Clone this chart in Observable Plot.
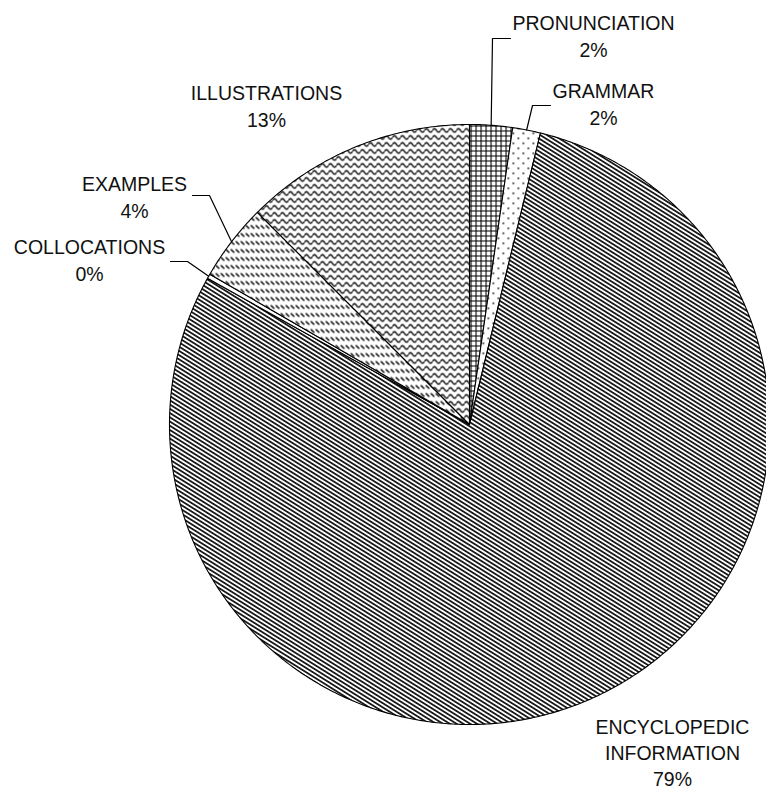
<!DOCTYPE html>
<html>
<head>
<meta charset="utf-8">
<script src="https://cdn.jsdelivr.net/npm/d3@7"></script>
<script src="https://cdn.jsdelivr.net/npm/@observablehq/plot@0.6"></script>
<style>
  html, body { margin: 0; padding: 0; background: #fff; }
  svg.defs { position: absolute; left: 0; top: 0; width: 0; height: 0; }
</style>
</head>
<body>
<svg class="defs" width="0" height="0">
  <defs>
    <pattern id="p-cross" patternUnits="userSpaceOnUse" width="5" height="5">
      <rect width="5" height="5" fill="#fff"/>
      <path d="M0,0.5 H5 M0.5,0 V5" stroke="#000" stroke-width="1.2" fill="none"/>
    </pattern>
    <pattern id="p-dots" patternUnits="userSpaceOnUse" width="10" height="10">
      <rect width="10" height="10" fill="#fff"/>
      <rect x="2" y="2" width="1.6" height="1.6" fill="#111"/>
      <rect x="7" y="7" width="1.6" height="1.6" fill="#111"/>
    </pattern>
    <pattern id="p-diag" patternUnits="userSpaceOnUse" width="8" height="3.6" patternTransform="rotate(32)">
      <rect width="8" height="3.6" fill="#fff"/>
      <rect y="0" width="8" height="1.8" fill="#1a1a1a"/>
    </pattern>
    <pattern id="p-dash" patternUnits="userSpaceOnUse" width="5" height="8">
      <rect width="5" height="8" fill="#fff"/>
      <path d="M0.3,0.8 L3.8,4.3" stroke="#000" stroke-width="1.4" fill="none"/>
    </pattern>
    <pattern id="p-wave" patternUnits="userSpaceOnUse" width="8" height="7">
      <rect width="8" height="7" fill="#fff"/>
      <path d="M0,4 Q2,0.5 4,4 T8,4" stroke="#000" stroke-width="1.5" fill="none"/>
    </pattern>
  </defs>
</svg>
<div id="chart"></div>
<script>
// ---- data ----
const categories = ["PRONUNCIATION", "GRAMMAR", "ENCYCLOPEDIC INFORMATION", "COLLOCATIONS", "EXAMPLES", "ILLUSTRATIONS"];
const values = [2.3, 1.5, 79.3, 0.25, 4.15, 12.5];
const percentLabels = ["2%", "2%", "79%", "0%", "4%", "13%"];
const labelLines = ["PRONUNCIATION", "GRAMMAR", "ENCYCLOPEDIC\nINFORMATION", "COLLOCATIONS", "EXAMPLES", "ILLUSTRATIONS"];

// ---- styles / layout (not data) ----
const sliceFills = ["url(#p-cross)", "url(#p-dots)", "url(#p-diag)", "#fff", "url(#p-dash)", "url(#p-wave)"];
const W = 766, H = 789, cx = 469, cy = 424, R = 300;
const labelPos = [[593, 10], [603, 78], [672, 715], [89, 234], [134, 171], [266, 80]];
const leaderStart = [
  [[510, 38], [492, 38]],
  [[550, 105], [532, 105]],
  null,
  [[170, 261], [187, 261]],
  [[192, 195], [209, 195]],
  null
];

const total = d3.sum(values);
let acc = 0;
const slices = categories.map((c, i) => {
  const a0 = acc / total * 2 * Math.PI;
  acc += values[i];
  const a1 = acc / total * 2 * Math.PI;
  return {c, i, a0, a1};
});

function slicePoints(s) {
  const pts = [{x: cx, y: cy}];
  const n = Math.max(2, Math.ceil((s.a1 - s.a0) / (Math.PI / 360)));
  for (let k = 0; k <= n; k++) {
    const a = s.a0 + (s.a1 - s.a0) * k / n;
    pts.push({x: cx + R * Math.sin(a), y: cy - R * Math.cos(a)});
  }
  pts.push({x: cx, y: cy});
  return pts;
}

const sliceMarks = slices.map(s => Plot.line(slicePoints(s), {
  x: "x", y: "y", fill: sliceFills[s.i], stroke: "#000", strokeWidth: 1.1, strokeLinejoin: "round"
}));

const leaders = [];
slices.forEach(s => {
  const st = leaderStart[s.i];
  if (!st) return;
  const am = (s.a0 + s.a1) / 2;
  st.forEach(p => leaders.push({c: s.c, x: p[0], y: p[1]}));
  leaders.push({c: s.c, x: cx + R * Math.sin(am), y: cy - R * Math.cos(am)});
});

const labels = slices.map(s => ({
  c: s.c,
  x: labelPos[s.i][0],
  y: labelPos[s.i][1],
  text: labelLines[s.i] + "\n" + percentLabels[s.i]
}));

const font = "Liberation Sans, Arial, Helvetica, sans-serif";

const chart = Plot.plot({
  width: W,
  height: H,
  margin: 0,
  style: {background: "#fff", fontFamily: font},
  x: {domain: [0, W], range: [0, W], axis: null},
  y: {domain: [0, H], range: [0, H], axis: null},
  marks: [
    ...sliceMarks,
    Plot.line(leaders, {x: "x", y: "y", z: "c", stroke: "#000", strokeWidth: 1.2}),
    Plot.text(labels.filter(d => d.c !== "ENCYCLOPEDIC INFORMATION"), {
      x: "x", y: "y", text: "text", lineAnchor: "top", textAnchor: "middle",
      fontSize: 19.5, lineHeight: 1.385, fill: "#111", fontFamily: font
    }),
    Plot.text(labels.filter(d => d.c === "ENCYCLOPEDIC INFORMATION"), {
      x: "x", y: "y", text: "text", lineAnchor: "top", textAnchor: "middle",
      fontSize: 19.5, lineHeight: 1.333, fill: "#111", fontFamily: font
    })
  ]
});
document.getElementById("chart").appendChild(chart);
</script>
</body>
</html>
